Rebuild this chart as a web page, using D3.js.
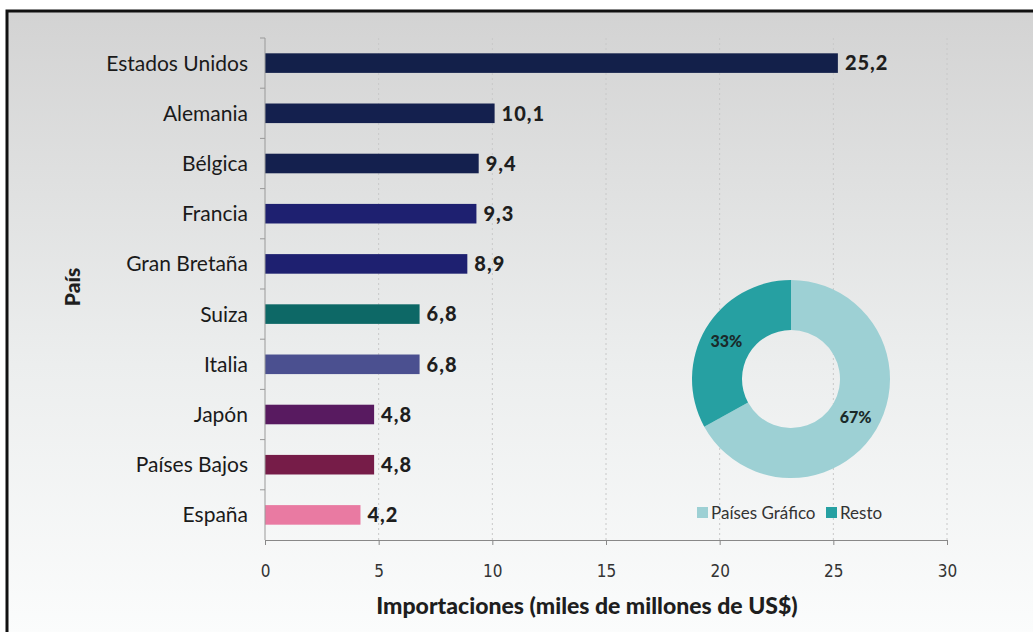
<!DOCTYPE html>
<html>
<head>
<meta charset="utf-8">
<script src="https://cdn.jsdelivr.net/npm/d3@7"></script>
<style>
  body { margin: 0; background: #fff; }
  svg { display: block; font-family: Lato, "Open Sans", sans-serif; }
</style>
</head>
<body>
<svg id="chart" width="1033" height="632"></svg>
<script>
// datos
const paises = ['Estados Unidos', 'Alemania', 'Bélgica', 'Francia', 'Gran Bretaña',
  'Suiza', 'Italia', 'Japón', 'Países Bajos', 'España'];
const importaciones = [25.2, 10.1, 9.4, 9.3, 8.9, 6.8, 6.8, 4.8, 4.8, 4.2];
const colores = ['#13204a', '#14204e', '#14204e', '#1e2070', '#1e2070',
  '#0d6866', '#4b5090', '#581a60', '#761c48', '#e97aa2'];
const xTicks = [0, 5, 10, 15, 20, 25, 30];
const donutLabels = ['Países Gráfico', 'Resto'];
const donutValues = [67, 33];
const donutColors = ['#9dd0d4', '#26a0a2'];

const svg = d3.select('#chart');
const margin = { top: 38, right: 86, bottom: 92, left: 265 };
const W = 1033, H = 632;

// fondo con degradado
const defs = svg.append('defs');
const grad = defs.append('linearGradient').attr('id', 'bg').attr('x1', 0).attr('y1', 0).attr('x2', 0).attr('y2', 1);
grad.append('stop').attr('offset', '0%').attr('stop-color', '#d3d3d3');
grad.append('stop').attr('offset', '55%').attr('stop-color', '#eceeee');
grad.append('stop').attr('offset', '100%').attr('stop-color', '#fcfdfd');
svg.append('rect').attr('x', 7).attr('y', 11).attr('width', W + 10).attr('height', H + 10)
  .attr('fill', 'url(#bg)').attr('stroke', '#111').attr('stroke-width', 3);

const x = d3.scaleLinear().domain([0, 30]).range([margin.left, 947]);
const y = d3.scaleBand().domain(paises).range([margin.top, 540]).paddingInner(0.61).paddingOuter(0.305);

// rejilla
svg.append('g').selectAll('line').data(xTicks.slice(1)).join('line')
  .attr('x1', d => x(d)).attr('x2', d => x(d))
  .attr('y1', margin.top).attr('y2', 540)
  .attr('stroke', '#c8c8c8').attr('stroke-dasharray', '2,3').attr('stroke-width', 1);

// barras
svg.append('g').selectAll('rect').data(paises).join('rect')
  .attr('x', x(0))
  .attr('y', d => y(d))
  .attr('width', (d, i) => x(importaciones[i]) - x(0))
  .attr('height', y.bandwidth())
  .attr('fill', (d, i) => colores[i]);

// etiquetas de valor
svg.append('g').selectAll('text').data(paises).join('text')
  .attr('x', (d, i) => x(importaciones[i]) + 7)
  .attr('y', d => y(d) + y.bandwidth() / 2)
  .attr('dy', '0.36em')
  .attr('font-size', 20).attr('font-weight', 900).attr('fill', '#1e1e1e')
  .attr('letter-spacing', 1)
  .text((d, i) => d3.format('.1f')(importaciones[i]).replace('.', ','));

// eje y
const yAxisG = svg.append('g').attr('transform', `translate(${margin.left},0)`);
yAxisG.append('line').attr('x1', 0).attr('x2', 0).attr('y1', margin.top).attr('y2', 540)
  .attr('stroke', '#999');
const step = y.step();
yAxisG.selectAll('.tk').data(d3.range(paises.length)).join('line')
  .attr('x1', -5).attr('x2', 0)
  .attr('y1', i => margin.top + i * step).attr('y2', i => margin.top + i * step)
  .attr('stroke', '#999');
yAxisG.selectAll('text').data(paises).join('text')
  .attr('x', -17).attr('y', d => y(d) + y.bandwidth() / 2).attr('dy', '0.36em')
  .attr('text-anchor', 'end').attr('font-size', 21).attr('fill', '#1a1a1a')
  .text(d => d);

// eje x
const xAxisG = svg.append('g').attr('transform', 'translate(0,540)')
  .call(d3.axisBottom(x).tickValues(xTicks).tickSize(5).tickPadding(20));
xAxisG.select('.domain').attr('stroke', '#888');
xAxisG.selectAll('.tick line').attr('stroke', '#888');
xAxisG.selectAll('text').attr('font-size', 17).attr('fill', '#333')
  .attr('font-family', '"Liberation Sans Narrow", "DejaVu Sans Condensed", sans-serif');

// títulos
svg.append('text').attr('x', 587).attr('y', 614).attr('text-anchor', 'middle')
  .attr('font-size', 23).attr('font-weight', 900).attr('fill', '#1e1e1e')
  .text('Importaciones (miles de millones de US$)');
svg.append('text').attr('transform', 'translate(80,287) rotate(-90)').attr('text-anchor', 'middle')
  .attr('font-size', 21).attr('font-weight', 900).attr('fill', '#1e1e1e')
  .text('País');

// dona
const cx = 791, cy = 379, rOut = 99, rIn = 49;
const pie = d3.pie().sort(null)(donutValues);
const arc = d3.arc().innerRadius(rIn).outerRadius(rOut);
const donut = svg.append('g').attr('transform', `translate(${cx},${cy})`);
donut.selectAll('path').data(pie).join('path')
  .attr('d', arc).attr('fill', (d, i) => donutColors[i]);
const labelArc = d3.arc().innerRadius(75).outerRadius(75);
donut.selectAll('text').data(pie).join('text')
  .attr('transform', d => `translate(${labelArc.centroid(d)})`)
  .attr('text-anchor', 'middle').attr('dy', '0.36em')
  .attr('font-size', 16).attr('font-weight', 900).attr('fill', '#1a2a2a')
  .text(d => d.data + '%');

// leyenda
const legend = svg.append('g').attr('transform', 'translate(697,513)');
const legX = [0, 129];
const lg = legend.selectAll('g').data(donutLabels).join('g')
  .attr('transform', (d, i) => `translate(${legX[i]},0)`);
lg.append('rect').attr('x', 0).attr('y', -6).attr('width', 11).attr('height', 11)
  .attr('fill', (d, i) => donutColors[i]);
lg.append('text').attr('x', 14).attr('dy', '0.36em').attr('font-size', 17)
  .attr('fill', '#333').text(d => d);
</script>
</body>
</html>
